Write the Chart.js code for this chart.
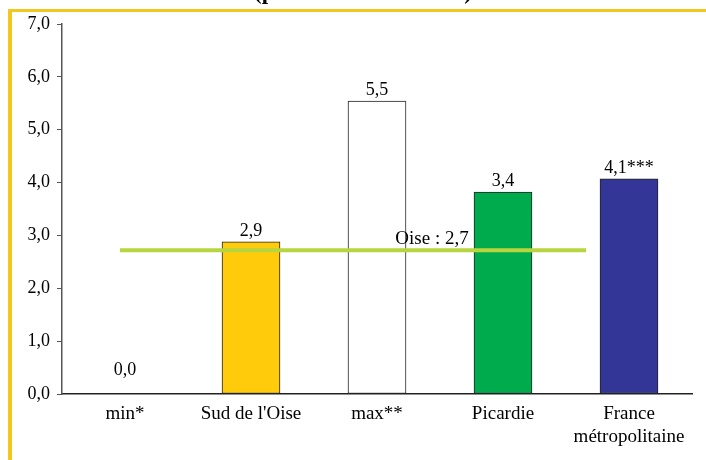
<!DOCTYPE html>
<html>
<head>
<meta charset="utf-8">
<script src="https://cdn.jsdelivr.net/npm/chart.js@4/dist/chart.umd.min.js"></script>
<style>
  html, body { margin: 0; padding: 0; background: #fff; }
  #wrap { width: 706px; height: 460px; }
</style>
</head>
<body>
<div id="wrap"><canvas id="chart" width="706" height="460"></canvas></div>
<script>
// categories and values
const categories = ['min*', "Sud de l'Oise", 'max**', 'Picardie', ['France', 'métropolitaine']];
const values = [0.0, 2.88, 5.54, 3.82, 4.07];
const valueLabels = ['0,0', '2,9', '5,5', '3,4', '4,1***'];
const barColors = ['#ffffff', '#ffcb0b', '#ffffff', '#00ab4e', '#333696'];
const oiseValue = 2.72;
const oiseLabel = 'Oise : 2,7';
const titleText = '(pour 1 000 habitants)';

const serif = '"Liberation Serif", "DejaVu Serif", serif';

// yellow frame, cut title, value labels and the Oise line
const decor = {
    id: 'decor',
    beforeDraw(chart) {
        const c = chart.ctx;
        c.save();
        c.fillStyle = '#f2c81e';
        c.fillRect(8, 9, 706 - 8, 3);
        c.fillRect(8, 9, 4, 460 - 9);
        c.fillStyle = '#000';
        c.font = 'bold 23px ' + serif;
        c.textAlign = 'center';
        c.textBaseline = 'alphabetic';
        c.fillText(titleText, 363, -1);
        c.restore();
    },
    afterDatasetsDraw(chart) {
        const c = chart.ctx;
        const x = chart.scales.x;
        const y = chart.scales.y;
        const w = x.getPixelForValue(1) - x.getPixelForValue(0);
        const ly = y.getPixelForValue(oiseValue);
        c.save();
        c.strokeStyle = '#b7d53f';
        c.lineWidth = 4;
        c.beginPath();
        c.moveTo(x.getPixelForValue(0) - 5, ly);
        c.lineTo(x.getPixelForValue(3) + 0.66 * w, ly);
        c.stroke();

        c.fillStyle = '#000';
        c.font = '19px ' + serif;
        c.textAlign = 'center';
        c.textBaseline = 'bottom';
        c.fillText(oiseLabel, (x.getPixelForValue(2) + x.getPixelForValue(3)) / 2 - 8, ly - 2);

        c.font = '18px ' + serif;
        chart.getDatasetMeta(0).data.forEach((bar, i) => {
            const off = values[i] === 0 ? 15 : 2;
            c.fillText(valueLabels[i], bar.x, bar.y - off);
        });
        c.restore();
    }
};

new Chart(document.getElementById('chart'), {
    type: 'bar',
    data: {
        labels: categories,
        datasets: [{
            data: values,
            backgroundColor: barColors,
            borderColor: '#222',
            borderWidth: 1,
            borderSkipped: false,
            barThickness: 58
        }]
    },
    options: {
        responsive: false,
        animation: false,
        layout: { padding: { top: 24, right: 14, left: 0, bottom: 0 } },
        plugins: {
            legend: { display: false },
            tooltip: { enabled: false }
        },
        scales: {
            x: {
                grid: { display: false },
                border: { color: '#222', width: 1.5 },
                ticks: {
                    color: '#000',
                    padding: 1,
                    maxRotation: 0,
                    font: { family: serif, size: 19, lineHeight: 1.2 }
                },
                afterFit: s => { s.height = 66; }
            },
            y: {
                min: 0,
                max: 7,
                ticks: {
                    stepSize: 1,
                    color: '#000',
                    padding: 7,
                    font: { family: serif, size: 18 },
                    callback: v => v.toFixed(1).replace('.', ',')
                },
                grid: { drawOnChartArea: false, tickLength: 5, color: '#555' },
                border: { color: '#555', width: 1.5 },
                afterFit: s => { s.width = 62; }
            }
        }
    },
    plugins: [decor]
});
</script>
</body>
</html>
